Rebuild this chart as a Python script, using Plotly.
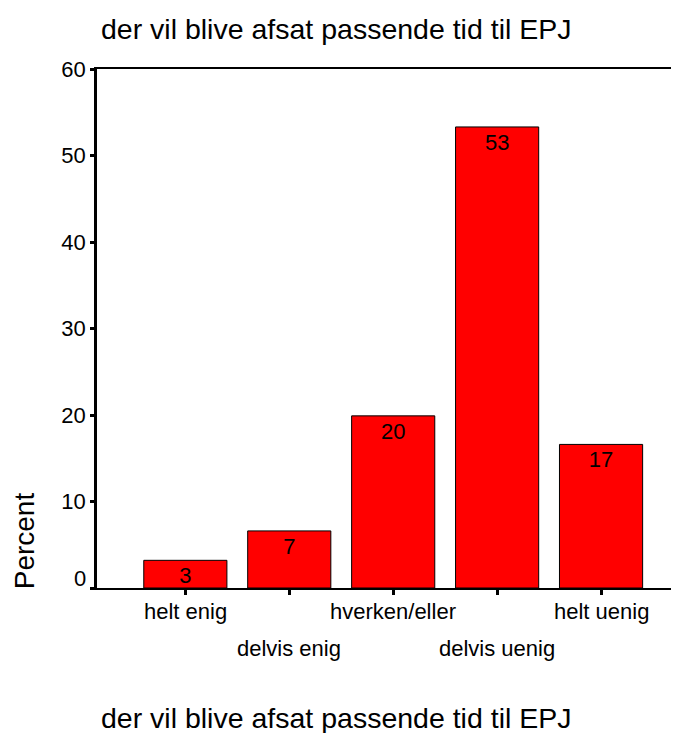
import plotly.graph_objects as go

categories = ["helt enig", "delvis enig", "hverken/eller", "delvis uenig", "helt uenig"]
percent = [3.2, 6.6, 19.9, 53.3, 16.6]
bar_labels = ["3", "7", "20", "53", "17"]
y_ticks = [0, 10, 20, 30, 40, 50, 60]
title_text = "der vil blive afsat passende tid til EPJ"
y_title = "Percent"

FONT = "Liberation Sans, Arial, sans-serif"
idx = list(range(len(categories)))

fig = go.Figure()
fig.add_trace(go.Bar(
    x=idx, y=percent, width=0.8,
    marker=dict(color="#ff0000", line=dict(color="black", width=1)),
    text=bar_labels, textposition="inside", insidetextanchor="end",
    textangle=0,
    textfont=dict(family=FONT, size=22, color="black"),
    constraintext="none", cliponaxis=False, hoverinfo="skip",
))

annotations = []
for i, c in enumerate(categories):
    annotations.append(dict(
        x=i, y=0, xref="x", yref="y", text=c, showarrow=False,
        yanchor="middle", yshift=-23 if i % 2 == 0 else -60,
        font=dict(family=FONT, size=22, color="black"),
    ))
annotations.append(dict(
    x=0, y=0, xref="paper", yref="y", text=str(y_ticks[0]), showarrow=False,
    xanchor="right", xshift=-9, yshift=10,
    font=dict(family=FONT, size=22, color="black"),
))
annotations.append(dict(
    x=0, y=0.09, xref="paper", yref="paper", text=y_title, showarrow=False,
    textangle=-90, xanchor="center", yanchor="middle", xshift=-73,
    font=dict(family=FONT, size=28, color="black"),
))
annotations.append(dict(
    x=0, y=1, xref="paper", yref="paper", text=title_text, showarrow=False,
    xanchor="left", yanchor="middle", xshift=2, yshift=40,
    font=dict(family=FONT, size=28.5, color="black"),
))
annotations.append(dict(
    x=0, y=0, xref="paper", yref="paper", text=title_text, showarrow=False,
    xanchor="left", yanchor="middle", xshift=2, yshift=-130,
    font=dict(family=FONT, size=28.5, color="black"),
))

fig.update_layout(
    width=671, height=725,
    margin=dict(l=89, r=0, t=61, b=145),
    paper_bgcolor="white", plot_bgcolor="white",
    showlegend=False,
    annotations=annotations,
    xaxis=dict(
        range=[-0.85, 4.75], tickvals=idx, ticktext=[""] * len(idx),
        showgrid=False, zeroline=False,
        showline=True, linecolor="black", linewidth=1.5, mirror=True,
        ticks="outside", ticklen=5, tickwidth=3, tickcolor="black",
    ),
    yaxis=dict(
        range=[0, 60], tickvals=y_ticks,
        ticktext=[""] + [str(v) for v in y_ticks[1:]],
        showgrid=False, zeroline=False,
        showline=True, linecolor="black", linewidth=2.5,
        ticks="outside", ticklen=4, tickwidth=3, tickcolor="black",
        tickfont=dict(family=FONT, size=22, color="black"),
    ),
)

fig.write_html("out.html")
